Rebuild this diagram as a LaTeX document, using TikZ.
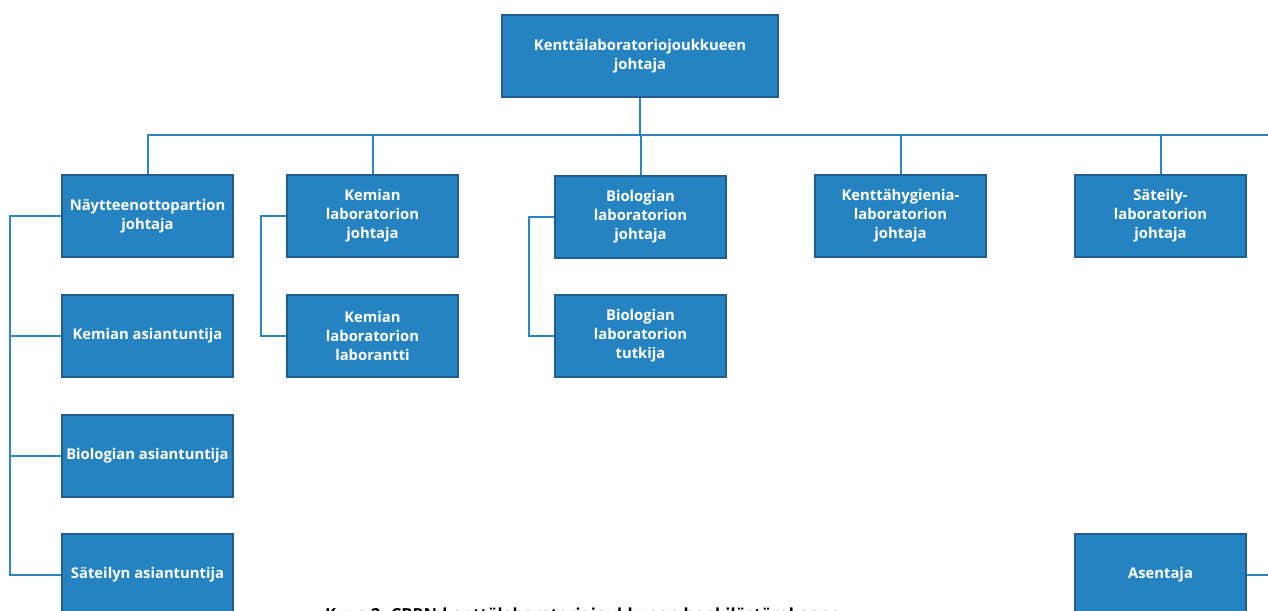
\documentclass[tikz,border=0pt]{standalone}
\usepackage{fontspec}
\setmainfont{Open Sans}
\definecolor{boxfill}{RGB}{37,131,194}
\definecolor{boxdraw}{RGB}{30,92,145}
\definecolor{linec}{RGB}{46,134,193}
\begin{document}
\begin{tikzpicture}[x=1pt,y=-1pt,
  box/.style={draw=boxdraw, line width=1.6pt, fill=boxfill, text=white,
    font=\bfseries\fontsize{14.8}{19}\selectfont, align=center,
    minimum width=171pt, minimum height=82pt, inner sep=0pt},
  conn/.style={draw=linec, line width=2pt},
  caption/.style={font=\bfseries\fontsize{16.6}{19}\selectfont, text=black, inner sep=0pt}]
\useasboundingbox (0,0) rectangle (1268,610);
\node[box, minimum width=276pt] (top) at (640,56) {Kenttälaboratoriojoukkueen\\johtaja};
\node[box] (n1) at (147.5,216) {Näytteenottopartion\\johtaja};
\node[box] (n2) at (372.5,216) {Kemian\\laboratorion\\johtaja};
\node[box] (n3) at (640.5,217) {Biologian\\laboratorion\\johtaja};
\node[box] (n4) at (900.5,216) {Kenttähygienia-\\laboratorion\\johtaja};
\node[box] (n5) at (1160.5,216) {Säteily-\\laboratorion\\johtaja};
\node[box] (a1) at (147.5,336) {Kemian asiantuntija};
\node[box] (a2) at (147.5,456) {Biologian asiantuntija};
\node[box] (a3) at (147.5,575) {Säteilyn asiantuntija};
\node[box] (k2) at (372.5,336) {Kemian\\laboratorion\\laborantti};
\node[box] (b2) at (640.5,336) {Biologian\\laboratorion\\tutkija};
\node[box] (as) at (1160.5,575) {Asentaja};
\coordinate (busR) at (1268,135);
\coordinate (sp1) at (10,0);
\coordinate (sp2) at (261,0);
\coordinate (sp3) at (529,0);
\coordinate (edgeR) at (1268,0);
\draw[conn] (top.south) -- (top.south |- busR);
\draw[conn] (n1.north) |- (busR);
\foreach \n in {n2,n3,n4,n5} \draw[conn] (\n.north) -- (\n.north |- busR);
\draw[conn] (n1.west) -- (sp1 |- n1.west) |- (a3.west);
\draw[conn] (sp1 |- a1.west) -- (a1.west);
\draw[conn] (sp1 |- a2.west) -- (a2.west);
\draw[conn] (n2.west) -- (sp2 |- n2.west) |- (k2.west);
\draw[conn] (n3.west) -- (sp3 |- n3.west) |- (b2.west);
\draw[conn] (as.east) -- (edgeR |- as.east);
\node[caption, anchor=base west] (cap) at (325,620.5) {Kuva 2. CBRN-kenttälaboratoriojoukkueen henkilöstörakenne};
\end{tikzpicture}
\end{document}
